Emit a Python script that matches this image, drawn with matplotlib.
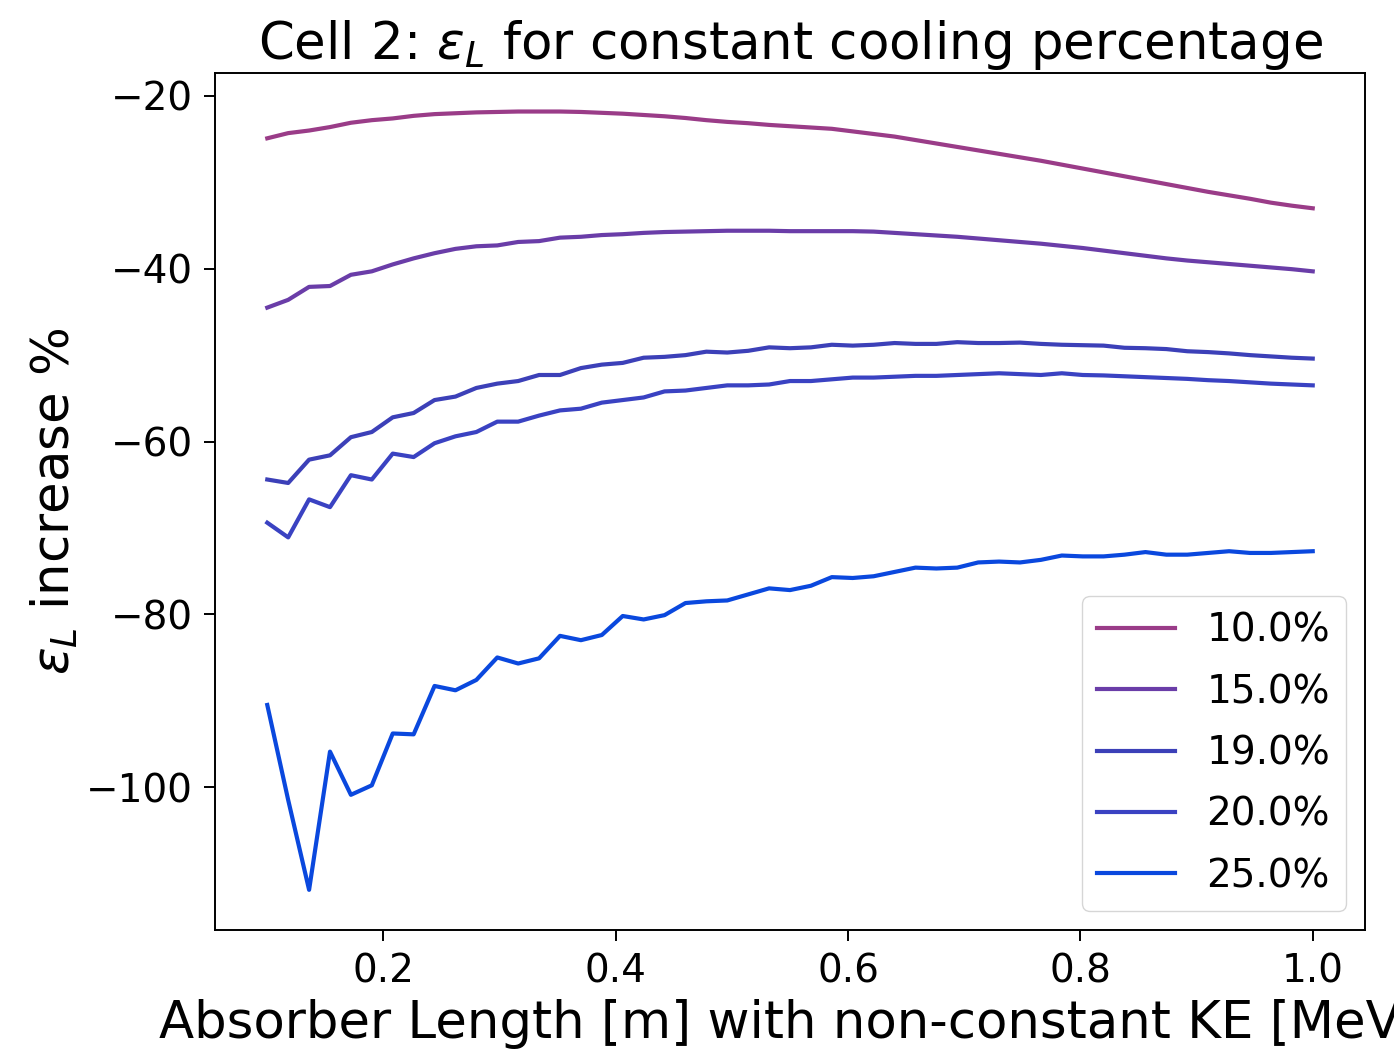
import numpy as np
import matplotlib
matplotlib.use("Agg")
import matplotlib.pyplot as plt

# absorber length grid [m]
absorber_length = np.linspace(0.1, 1.0, 51)

cooling_labels = ["10.0%", "15.0%", "19.0%", "20.0%", "25.0%"]
line_colors = ["#9a3c88", "#6a3da8", "#3c40b8", "#3a42c2", "#0a48de"]

# epsilon_L increase % for each cooling percentage
eps_10 = [-24.9, -24.3, -24.0, -23.6, -23.1, -22.8, -22.6, -22.3, -22.1, -22.0,
          -21.9, -21.85, -21.8, -21.8, -21.8, -21.85, -21.95, -22.05, -22.2, -22.35,
          -22.55, -22.8, -23.0, -23.15, -23.35, -23.5, -23.65, -23.8, -24.1, -24.4,
          -24.7, -25.1, -25.5, -25.9, -26.3, -26.7, -27.1, -27.5, -27.95, -28.4,
          -28.85, -29.3, -29.75, -30.2, -30.65, -31.1, -31.5, -31.9, -32.35, -32.7,
          -33.0]
eps_15 = [-44.5, -43.6, -42.1, -42.0, -40.7, -40.3, -39.5, -38.8, -38.2, -37.7,
          -37.4, -37.3, -36.9, -36.8, -36.4, -36.3, -36.1, -36.0, -35.85, -35.75,
          -35.7, -35.65, -35.6, -35.6, -35.6, -35.65, -35.65, -35.65, -35.65, -35.7,
          -35.85, -36.0, -36.15, -36.3, -36.5, -36.7, -36.9, -37.1, -37.35, -37.6,
          -37.9, -38.2, -38.5, -38.8, -39.05, -39.25, -39.45, -39.65, -39.85, -40.05,
          -40.3]
eps_19 = [-64.4, -64.8, -62.1, -61.6, -59.5, -58.9, -57.2, -56.7, -55.2, -54.8,
          -53.8, -53.3, -53.0, -52.3, -52.3, -51.5, -51.1, -50.9, -50.3, -50.2,
          -50.0, -49.6, -49.7, -49.5, -49.1, -49.2, -49.1, -48.8, -48.9, -48.8,
          -48.6, -48.7, -48.7, -48.5, -48.6, -48.6, -48.55, -48.7, -48.8, -48.85,
          -48.9, -49.15, -49.2, -49.3, -49.55, -49.65, -49.8, -50.0, -50.15, -50.3,
          -50.4]
eps_20 = [-69.4, -71.1, -66.7, -67.6, -63.9, -64.4, -61.4, -61.8, -60.2, -59.4,
          -58.9, -57.7, -57.7, -57.0, -56.4, -56.2, -55.5, -55.2, -54.9, -54.2,
          -54.1, -53.8, -53.5, -53.5, -53.4, -53.0, -53.0, -52.8, -52.6, -52.6,
          -52.5, -52.4, -52.4, -52.3, -52.2, -52.1, -52.2, -52.3, -52.1, -52.3,
          -52.35, -52.45, -52.55, -52.65, -52.75, -52.9, -53.0, -53.15, -53.3, -53.4,
          -53.5]
eps_25 = [-90.5, -101.5, -111.9, -95.9, -100.9, -99.8, -93.8, -93.9, -88.3, -88.8,
          -87.6, -85.0, -85.7, -85.1, -82.5, -83.0, -82.4, -80.2, -80.6, -80.1,
          -78.7, -78.5, -78.4, -77.7, -77.0, -77.2, -76.7, -75.7, -75.8, -75.6,
          -75.1, -74.6, -74.7, -74.6, -74.0, -73.9, -74.0, -73.7, -73.2, -73.3,
          -73.3, -73.1, -72.8, -73.1, -73.1, -72.9, -72.7, -72.9, -72.9, -72.8,
          -72.7]

all_series = [eps_10, eps_15, eps_19, eps_20, eps_25]

fig = plt.figure(figsize=(13.94, 10.5), dpi=100)
ax = fig.add_axes([215 / 1394, 1 - 930 / 1050, 1150 / 1394, 857 / 1050])

for vals, lab, col in zip(all_series, cooling_labels, line_colors):
    ax.plot(absorber_length, vals, color=col, lw=3.0, label=lab)

ax.set_xlim(0.055, 1.045)
ax.set_ylim(-116.55, -17.34)
ax.set_xticks([0.2, 0.4, 0.6, 0.8, 1.0])
ax.set_yticks([-100, -80, -60, -40, -20])
ax.tick_params(labelsize=28, length=8, width=1.4, pad=8)
for s in ax.spines.values():
    s.set_linewidth(1.4)

ax.set_title(r"Cell 2: $\epsilon_L$ for constant cooling percentage", fontsize=37, pad=10)
ax.set_xlabel("Absorber Length [m] with non-constant KE [MeV]", fontsize=37, labelpad=6)
ax.set_ylabel(r"$\epsilon_L$ increase %", fontsize=37)

ax.legend(loc="lower right", fontsize=28, handlelength=2.0, labelspacing=0.6)

fig.savefig("out.png", dpi=100)
